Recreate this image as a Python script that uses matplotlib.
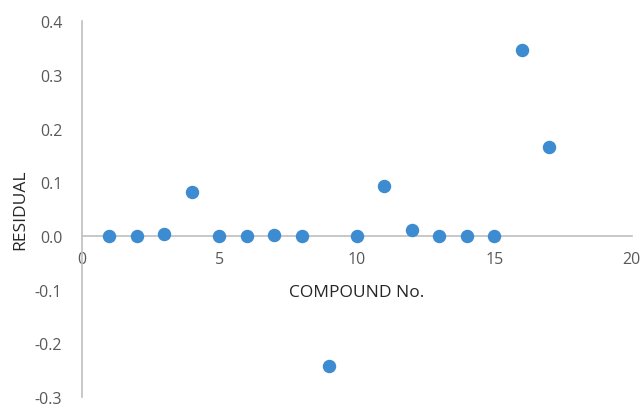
import matplotlib.pyplot as plt

compound = [1, 2, 3, 4, 5, 6, 7, 8, 9, 10, 11, 12, 13, 14, 15, 16, 17]
residual = [0.0, 0.0, 0.003, 0.082, 0.0, 0.0, 0.001, 0.0, -0.243,
            0.0, 0.093, 0.012, 0.0, 0.0, 0.0, 0.346, 0.166]

plt.rcParams['font.family'] = ['Open Sans', 'DejaVu Sans']

fig = plt.figure(figsize=(6.44, 4.1), dpi=100)
ax = fig.add_axes([0.127, 0.029, 0.854, 0.917])

ax.scatter(compound, residual, s=75, color='#3d8bd0', zorder=3)

ax.set_xlim(0, 20)
ax.set_ylim(-0.3, 0.4)
ax.set_xticks([0, 5, 10, 15, 20])
ax.set_yticks([-0.3, -0.2, -0.1, 0.0, 0.1, 0.2, 0.3, 0.4])
ax.set_yticklabels(['-0.3', '-0.2', '-0.1', '0.0', '0.1', '0.2', '0.3', '0.4'])

ax.spines['top'].set_visible(False)
ax.spines['right'].set_visible(False)
ax.spines['bottom'].set_position(('data', 0))
for s in ['left', 'bottom']:
    ax.spines[s].set_color('#bfbfbf')
    ax.spines[s].set_linewidth(1.2)
ax.tick_params(length=0, labelsize=11.5, labelcolor='#595959')
ax.tick_params(axis='x', pad=11)
ax.tick_params(axis='y', pad=14)

ax.set_xlabel('COMPOUND No.', fontsize=12.5, color='#262626', labelpad=12)
ax.set_ylabel('RESIDUAL', fontsize=12.5, color='#262626', labelpad=5)

fig.savefig('out.png', dpi=100)
